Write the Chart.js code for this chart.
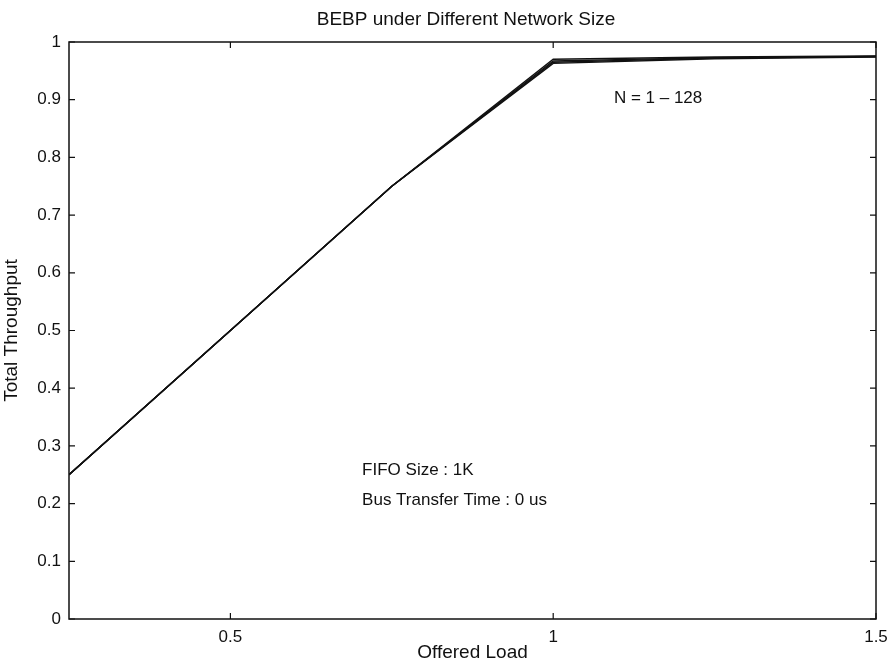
<!DOCTYPE html>
<html>
<head>
<meta charset="utf-8">
<script src="https://cdn.jsdelivr.net/npm/chart.js@4/dist/chart.umd.min.js"></script>
<style>
  html, body { margin: 0; padding: 0; background: #fff; }
  #wrap { width: 896px; height: 664px; position: relative; }
</style>
</head>
<body>
<div id="wrap"><canvas id="c" width="896" height="664"></canvas></div>
<script>
// Offered load sample points
const offeredLoad = [0.25, 0.5, 0.75, 1.0, 1.25, 1.5];
// Total throughput for each network size N
const thrN1   = [0.25, 0.5, 0.75, 0.970, 0.974, 0.976];
const thrN8   = [0.25, 0.5, 0.75, 0.967, 0.973, 0.975];
const thrN32  = [0.25, 0.5, 0.75, 0.965, 0.972, 0.975];
const thrN128 = [0.25, 0.5, 0.75, 0.963, 0.971, 0.974];
const seriesNames = ['N = 1', 'N = 8', 'N = 32', 'N = 128'];
const xTickValues = [0.5, 1, 1.5];
const yTickValues = [0, 0.1, 0.2, 0.3, 0.4, 0.5, 0.6, 0.7, 0.8, 0.9, 1];

const FONT = '"Liberation Sans", Arial, Helvetica, sans-serif';
const TICK_SIZE = 17;
const NOTE_SIZE = 17;
const TEXT_SIZE = 19;

function toPoints(ys) { return offeredLoad.map((x, i) => ({ x: x, y: ys[i] })); }

const allSeries = [thrN1, thrN8, thrN32, thrN128];
const datasets = allSeries.map((s, i) => ({
  label: seriesNames[i],
  data: toPoints(s),
  borderColor: '#111',
  borderWidth: 1.4,
  pointRadius: 0,
  fill: false,
  tension: 0
}));

// frame, inward tick marks, title and text notes
const framePlugin = {
  id: 'frame',
  afterDraw(chart) {
    const { ctx, chartArea: a, scales } = chart;
    const xs = scales.x, ys = scales.y;
    ctx.save();
    ctx.strokeStyle = '#111';
    ctx.lineWidth = 1.5;
    ctx.strokeRect(a.left, a.top, a.right - a.left, a.bottom - a.top);
    const L = 6;
    ctx.lineWidth = 1.2;
    ctx.beginPath();
    xTickValues.forEach(v => {
      const px = xs.getPixelForValue(v);
      ctx.moveTo(px, a.bottom); ctx.lineTo(px, a.bottom - L);
      ctx.moveTo(px, a.top); ctx.lineTo(px, a.top + L);
    });
    yTickValues.forEach(v => {
      const py = ys.getPixelForValue(v);
      ctx.moveTo(a.left, py); ctx.lineTo(a.left + L, py);
      ctx.moveTo(a.right, py); ctx.lineTo(a.right - L, py);
    });
    ctx.stroke();

    ctx.fillStyle = '#111';
    ctx.font = TEXT_SIZE + 'px ' + FONT;
    ctx.textAlign = 'center';
    ctx.textBaseline = 'middle';
    ctx.fillText('BEBP under Different Network Size', 466, 20);

    ctx.font = NOTE_SIZE + 'px ' + FONT;
    ctx.textAlign = 'left';
    ctx.fillText('N = 1 \u2013 128', xs.getPixelForValue(1.094), ys.getPixelForValue(0.903));
    ctx.fillText('FIFO Size : 1K', xs.getPixelForValue(0.704), ys.getPixelForValue(0.258));
    ctx.fillText('Bus Transfer Time : 0 us', xs.getPixelForValue(0.704), ys.getPixelForValue(0.206));
    ctx.restore();
  }
};

new Chart(document.getElementById('c'), {
  type: 'line',
  data: { datasets },
  options: {
    responsive: false,
    animation: false,
    layout: { padding: { top: 42, right: 20, left: 0, bottom: 0 } },
    plugins: { legend: { display: false }, tooltip: { enabled: false }, title: { display: false } },
    scales: {
      x: {
        type: 'linear',
        min: 0.25, max: 1.5,
        afterBuildTicks: s => { s.ticks = xTickValues.map(v => ({ value: v })); },
        afterFit: s => { s.height = 45; },
        grid: { display: false, drawTicks: false },
        border: { display: false },
        ticks: {
          padding: 8,
          color: '#111',
          font: { family: FONT, size: TICK_SIZE },
          maxRotation: 0,
          callback: v => String(v)
        },
        title: {
          display: true, text: 'Offered Load', color: '#111',
          font: { family: FONT, size: TEXT_SIZE }, padding: { top: 0, bottom: 0 }
        }
      },
      y: {
        min: 0, max: 1,
        afterBuildTicks: s => { s.ticks = yTickValues.map(v => ({ value: v })); },
        afterFit: s => { s.width = 69; },
        grid: { display: false, drawTicks: false },
        border: { display: false },
        ticks: {
          padding: 8,
          color: '#111',
          font: { family: FONT, size: TICK_SIZE },
          callback: v => String(Math.round(v * 10) / 10)
        },
        title: {
          display: true, text: 'Total Throughput', color: '#111',
          font: { family: FONT, size: TEXT_SIZE }, padding: { top: 0, bottom: 0 }
        }
      }
    }
  },
  plugins: [framePlugin]
});
</script>
</body>
</html>
